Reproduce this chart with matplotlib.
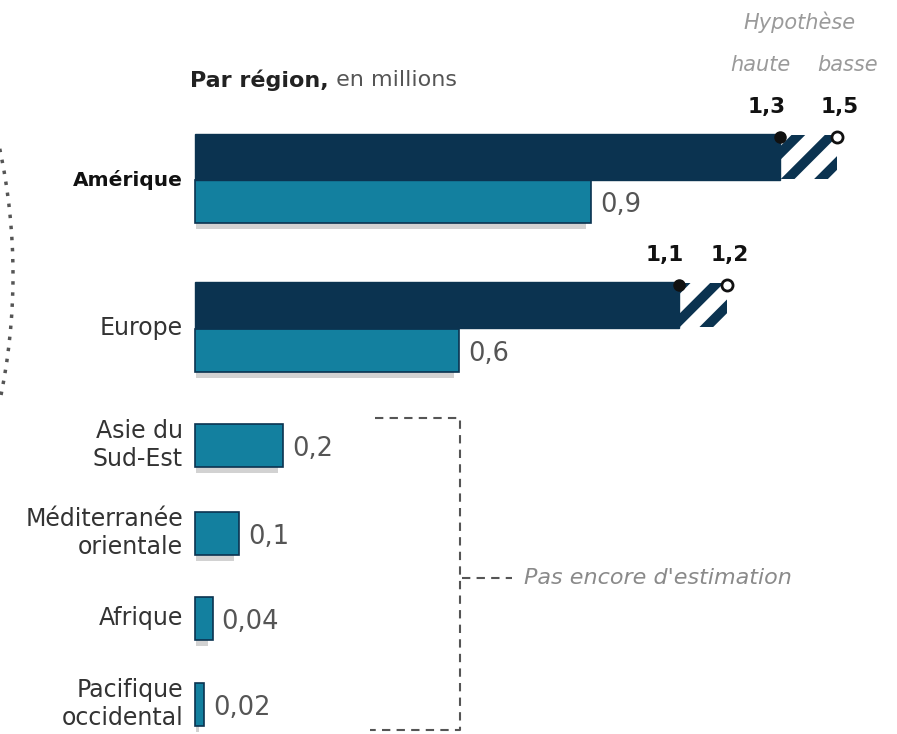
import numpy as np
import matplotlib.pyplot as plt
from matplotlib.patches import Arc

plt.rcParams['font.family'] = 'DejaVu Sans'
plt.rcParams['hatch.linewidth'] = 7

# données (en millions)
regions = ["Amérique", "Europe", "Asie du\nSud-Est", "Méditerranée\norientale",
           "Afrique", "Pacifique\noccidental"]
current = [0.9, 0.6, 0.2, 0.1, 0.04, 0.02]
current_labels = ["0,9", "0,6", "0,2", "0,1", "0,04", "0,02"]
high = [1.33, 1.1]      # hypothèse haute
low = [1.46, 1.21]      # hypothèse basse
high_labels = ["1,3", "1,1"]
low_labels = ["1,5", "1,2"]

DARK = '#0b3350'
TEAL = '#13809f'
SHADOW = '#d2d2d2'
GREY_TXT = '#555555'

# layout (pixels)
W, H = 897, 734
x0, scale = 195, 440
y_cur = [201, 350, 445, 533, 618, 704]
y_est = [157, 305]
h_cur, h_est = 43, 46

fig = plt.figure(figsize=(W / 100, H / 100), dpi=100)
ax = fig.add_axes([0, 0, 1, 1])
ax.set_xlim(-x0 / scale, (W - x0) / scale)
ax.set_ylim(H, 0)
ax.axis('off')

# shadows
sh = [max(v - 0.014, 0) for v in current]
ax.barh(np.array(y_cur) + 6, sh, left=0.003, height=h_cur, color=SHADOW, zorder=1)

# current bars
ax.barh(y_cur, current, height=h_cur, color=TEAL, edgecolor=DARK, linewidth=1.2, zorder=3)
for y, v, lab in zip(y_cur, current, current_labels):
    ax.text(v + 9 / scale, y + 4, lab, ha='left', va='center', fontsize=18.5, color=GREY_TXT)

# estimates
ax.barh(y_est, high, height=h_est, color=DARK, edgecolor=DARK, linewidth=1, zorder=3)
ax.barh(y_est, np.array(low) - np.array(high), left=high, height=h_est - 2,
        facecolor='white', edgecolor=DARK, hatch='/', linewidth=0, zorder=2)
top = np.array(y_est) - h_est / 2 + 3
ax.plot(high, top, 'o', color='#111111', ms=8, zorder=5)
ax.plot(low, top, 'o', mfc='white', mec='#111111', mew=2, ms=8, zorder=5)
for y, hv, lv, hl, ll in zip(top, high, low, high_labels, low_labels):
    ax.text(hv - 14 / scale, y - 20, hl, ha='center', va='bottom', fontsize=15.5,
            fontweight='bold', color='#111111')
    ax.text(lv + 2 / scale, y - 20, ll, ha='center', va='bottom', fontsize=15.5,
            fontweight='bold', color='#111111')

# category labels
for i, (y, name) in enumerate(zip(y_cur, regions)):
    yy = y_est[i] + 23 if i < 2 else y
    ax.text(-12 / scale, yy, name, ha='right', va='center', multialignment='right',
            fontsize=14.5 if i == 0 else 17, color='#111111' if i == 0 else '#333333',
            fontweight='bold' if i == 0 else 'normal', linespacing=1.25)

# decorations in pixel coordinates
deco = fig.add_axes([0, 0, 1, 1], facecolor='none')
deco.set_xlim(0, W)
deco.set_ylim(H, 0)
deco.axis('off')

t1 = deco.text(190, 80, "Par région,", fontsize=16, fontweight='bold', color='#222222',
               ha='left', va='center')
deco.annotate(" en millions", xy=(1, 0.5), xycoords=t1, fontsize=16, color='#555555',
              ha='left', va='center')
deco.text(800, 22, "Hypothèse", fontsize=15, style='italic', color='#9a9a9a', ha='center', va='center')
deco.text(760, 65, "haute", fontsize=15, style='italic', color='#9a9a9a', ha='center', va='center')
deco.text(848, 65, "basse", fontsize=15, style='italic', color='#9a9a9a', ha='center', va='center')

# bracket "pas encore d'estimation"
dash = dict(color='#555555', lw=1.5, linestyle=(0, (4, 3)))
deco.plot([375, 460, 460, 370], [418, 418, 730, 730], **dash)
deco.plot([462, 512], [578, 578], **dash)
deco.text(524, 578, "Pas encore d'estimation", fontsize=16, style='italic', color='#8a8a8a',
          ha='left', va='center')

# dotted arc on the left
R = 607
deco.add_patch(Arc((13 - R, 275), 2 * R, 2 * R, theta1=-12, theta2=12,
                   color='#555555', lw=2.5, linestyle=(0, (1, 2.2))))

fig.savefig('out.png', dpi=100)
